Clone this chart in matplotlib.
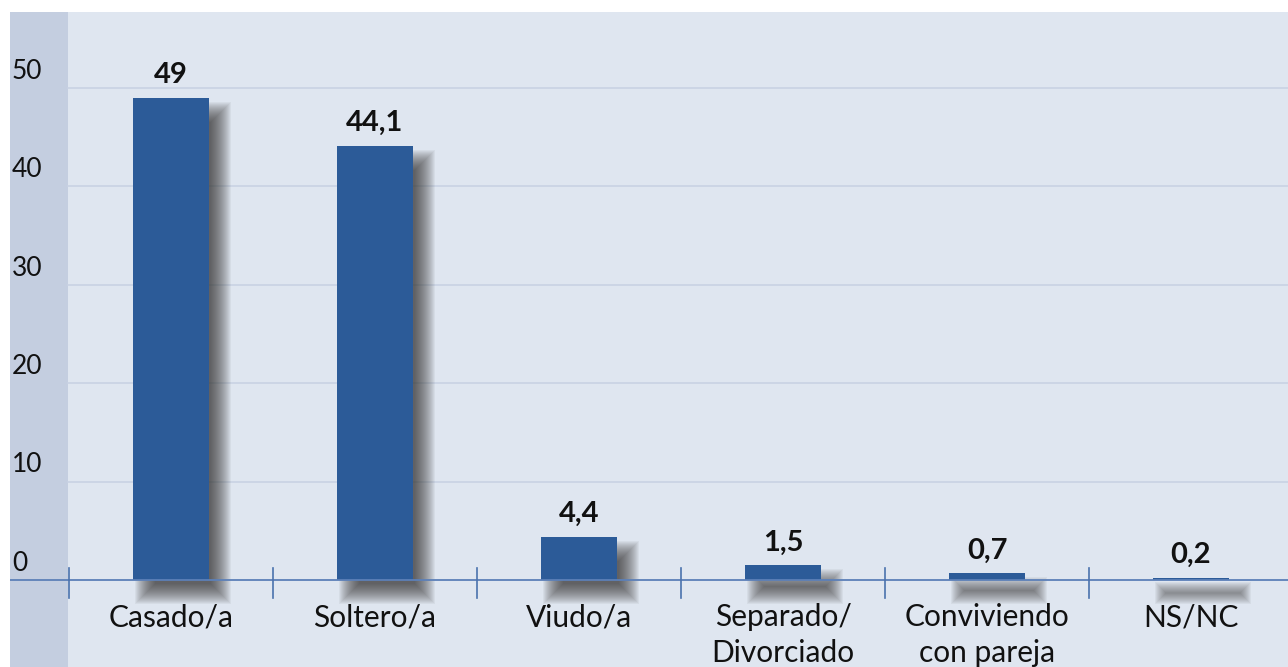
import numpy as np
import matplotlib
matplotlib.use("Agg")
import matplotlib.pyplot as plt
from matplotlib.patches import Rectangle

plt.rcParams['font.family'] = ['Lato', 'DejaVu Sans']

# data
categories = ['Casado/a', 'Soltero/a', 'Viudo/a', 'Separado/\nDivorciado',
              'Conviviendo\ncon pareja', 'NS/NC']
values = [49, 44.1, 4.4, 1.5, 0.7, 0.2]
value_labels = ['49', '44,1', '4,4', '1,5', '0,7', '0,2']
yticks = [0, 10, 20, 30, 40, 50]

bar_color = '#2c5b98'
bg_main = '#dfe6f0'
bg_strip = '#c4cee0'
grid_color = '#c9d2e3'
axis_color = '#5c80b8'

W, H = 1288, 667
fig = plt.figure(figsize=(W / 100, H / 100), dpi=100)
fig.patch.set_facecolor('white')

# pixel geometry of the panel
px_left, px_top = 10, 12
ax = fig.add_axes([px_left / W, 0, 1 - px_left / W, (H - px_top) / H])
ax.set_facecolor(bg_main)
for s in ax.spines.values():
    s.set_visible(False)
ax.set_xticks([])
ax.set_yticks([])

# scales: category spacing 204 px, first centre at x=171; y: 0 at 580 px, 9.84 px/unit
sx, cx0 = 204.0, 171.0
sy, y0 = 9.84, 580.0
ax.set_xlim((px_left - cx0) / sx, (W - cx0) / sx)
ax.set_ylim(-(H - y0) / sy, (y0 - px_top) / sy)

strip_right = (68 - cx0) / sx
ax.axvspan(ax.get_xlim()[0], strip_right, color=bg_strip, lw=0, zorder=0)

# gridlines
xl = ax.get_xlim()
for t in yticks[1:]:
    ax.plot([strip_right, xl[1]], [t, t], color=grid_color, lw=1.2, zorder=1)

# y tick labels
for t in yticks:
    ax.text((12 - cx0) / sx, t + 1.7, str(t), fontsize=19, ha='left', va='center',
            color='#111111', zorder=5)

x = np.arange(len(categories))
bw = 76 / sx

# soft blurred shadows (offset right and down)
dx, dy = 12 / sx, -14 / sy
for xi, v in zip(x, values):
    for r in range(-10, 11):
        ex, ey = r / sx, r / sy
        h = v + 2 * ey
        if h <= 0:
            continue
        ax.add_patch(Rectangle((xi - bw / 2 + dx - ex, dy - ey), bw + 2 * ex, h,
                               facecolor='#2a2a2a', edgecolor='none', alpha=0.05,
                               zorder=2))

ax.bar(x, values, width=bw, color=bar_color, zorder=3)

# axis line and boundary ticks
ax.axhline(0, color=axis_color, lw=1.3, zorder=4)
for b in np.arange(len(categories)) - 0.5:
    ax.plot([b, b], [12 / sy, -18 / sy], color='#4a72ad', lw=1.2, zorder=4)

# value labels
for xi, v, lab in zip(x, values, value_labels):
    ax.annotate(lab, (xi, v), xytext=(0, 7), textcoords='offset points',
                ha='center', va='bottom', fontsize=21, fontweight='bold',
                color='#111111', zorder=5)

# category labels
for xi, c in zip(x, categories):
    ax.text(xi, -23 / sy, c, ha='center', va='top', fontsize=21.5, color='#111111',
            linespacing=1.35, zorder=5)

fig.savefig('out.png', dpi=100, facecolor='white')
